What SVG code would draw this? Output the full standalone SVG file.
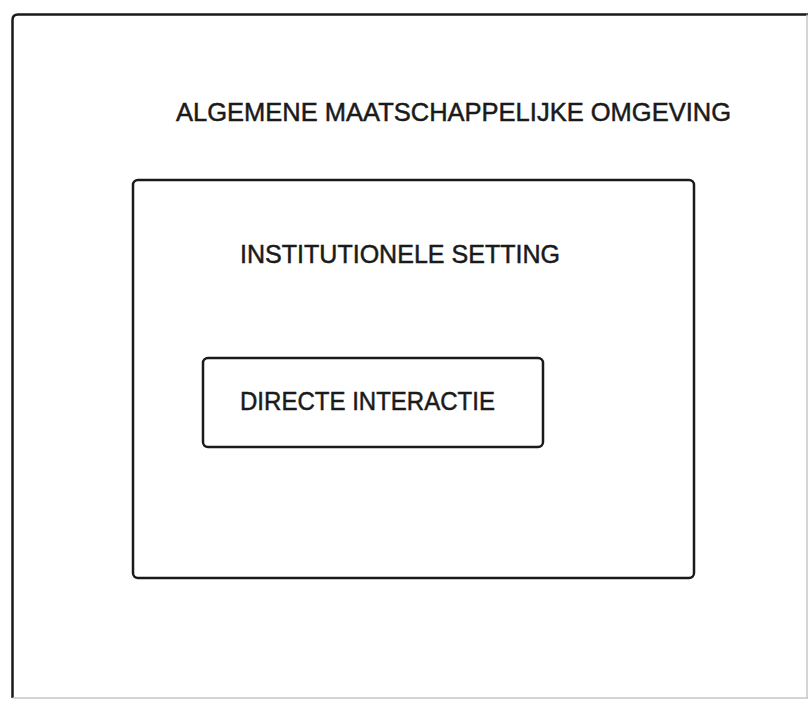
<svg xmlns="http://www.w3.org/2000/svg" width="809" height="701" viewBox="0 0 809 701">
<style>
.box{fill:none;stroke:#1a1a1a;stroke-width:2.5}
.lbl{font-family:"Liberation Sans",Arial,sans-serif;font-size:26px;fill:#1a1a1a;stroke:#1a1a1a;stroke-width:0.5}
</style>
<rect width="809" height="701" fill="#ffffff"/>
<g id="outer">
<path d="M808,14.5 H18 Q12.5,14.5 12.5,20 V698" class="box"/>
<path d="M12.5,698 H808 M807,14.5 V698" fill="none" stroke="#c8c8c8" stroke-width="1.5"/>
<text class="lbl" x="176" y="121" textLength="555" lengthAdjust="spacingAndGlyphs">ALGEMENE MAATSCHAPPELIJKE OMGEVING</text>
</g>
<g id="institutional">
<rect x="133" y="180" width="561" height="398" rx="5" class="box"/>
<text class="lbl" x="240" y="263" textLength="320" lengthAdjust="spacingAndGlyphs">INSTITUTIONELE SETTING</text>
</g>
<g id="direct">
<rect x="203" y="358" width="340" height="89" rx="5" class="box" stroke-width="2"/>
<text class="lbl" x="240" y="410" textLength="255" lengthAdjust="spacingAndGlyphs">DIRECTE INTERACTIE</text>
</g>
<g id="connectors"/>
</svg>
